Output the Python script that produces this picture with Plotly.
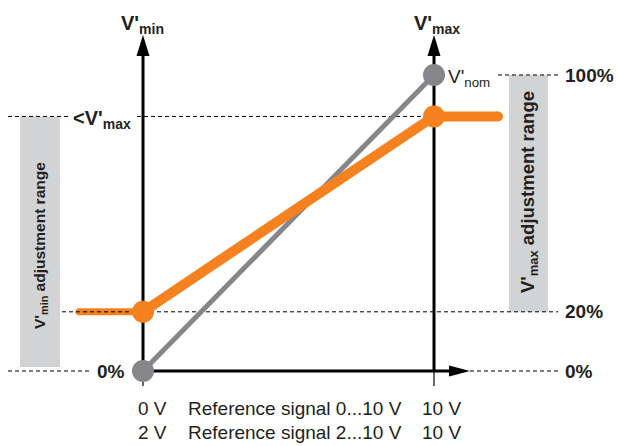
import plotly.graph_objects as go

# ---------------- data ----------------
signal_v = [0, 10]                      # reference signal start / end (V)
nominal_pct = [0, 100]                  # unlimited output (grey)
limited_v = [-2.2, 0, 10, 12.2]         # limited output (orange)
limited_pct = [20, 20, 86, 86]
vmin_pct = 20
vmax_pct = 86
nom_pct = 100
level_pct = [100, 20, 0]
level_labels = ["100%", "20%", "0%"]
start_labels = ["0 V", "2 V"]
end_labels = ["10 V", "10 V"]
signal_labels = ["Reference signal 0...10 V", "Reference signal 2...10 V"]

# ---------------- geometry helpers (pixel -> data) ----------------
W, H = 618, 446
X0, XS = 143, 29.1
Y0, YS = 371, 2.96


def px_x(p):
    return (p - X0) / XS


def px_y(p):
    return (Y0 - p) / YS


ORANGE = "#f5821f"
GREY = "#848689"
RECT = "#d2d3d5"
TEXT = "#231f20"
FONT = "Liberation Sans, Arial, sans-serif"
NARROW = "Liberation Sans Narrow, Liberation Sans, Arial, sans-serif"

fig = go.Figure()

# grey nominal line
fig.add_trace(go.Scatter(x=signal_v, y=nominal_pct, mode="lines+markers",
                         line=dict(color=GREY, width=5),
                         marker=dict(color=GREY, size=22, opacity=1),
                         hoverinfo="skip"))
# orange limited line
fig.add_trace(go.Scatter(x=limited_v[:2], y=limited_pct[:2], mode="lines",
                         line=dict(color=ORANGE, width=7), hoverinfo="skip"))
fig.add_trace(go.Scatter(x=limited_v[1:], y=limited_pct[1:], mode="lines",
                         line=dict(color=ORANGE, width=10), hoverinfo="skip"))
fig.add_trace(go.Scatter(x=limited_v, y=limited_pct, mode="markers",
                         marker=dict(color=ORANGE, size=[7, 22, 22, 10], opacity=1,
                                     line=dict(width=0)),
                         hoverinfo="skip"))

shapes = []
# grey adjustment range boxes
shapes.append(dict(type="rect", xref="x", yref="y", x0=px_x(20), x1=px_x(60),
                   y0=px_y(367), y1=vmax_pct, fillcolor=RECT, line=dict(width=0),
                   layer="below"))
shapes.append(dict(type="rect", xref="x", yref="y", x0=px_x(509), x1=px_x(548),
                   y0=vmin_pct, y1=nom_pct, fillcolor=RECT, line=dict(width=0),
                   layer="below"))

dash = dict(color="black", width=1, dash="4px,3px")


def dline(xa, xb, y, layer="below"):
    shapes.append(dict(type="line", xref="x", yref="y", x0=xa, x1=xb, y0=y, y1=y,
                       line=dash, layer=layer))


dline(px_x(8), px_x(68), vmax_pct)
dline(px_x(137), signal_v[1], vmax_pct)
dline(px_x(498), px_x(558), nom_pct)
dline(px_x(62), px_x(131), vmin_pct, layer="above")
dline(signal_v[0], px_x(558), vmin_pct)
dline(px_x(8), px_x(90), 0)
dline(px_x(470), px_x(558), 0)

axis = dict(color="black", width=3)
thin = dict(color="black", width=1.2)
for xv in signal_v:
    shapes.append(dict(type="line", xref="x", yref="y", x0=xv, x1=xv,
                       y0=0, y1=px_y(50), line=axis, layer="below"))
    shapes.append(dict(type="line", xref="x", yref="y", x0=xv, x1=xv,
                       y0=0, y1=px_y(386), line=thin, layer="below"))
    xp = X0 + xv * XS
    shapes.append(dict(type="path", xref="x", yref="y",
                       path=f"M {px_x(xp)},{px_y(35)} L {px_x(xp - 6.5)},{px_y(56)} "
                            f"L {px_x(xp + 6.5)},{px_y(56)} Z",
                       fillcolor="black", line=dict(width=0), layer="below"))
shapes.append(dict(type="line", xref="x", yref="y", x0=signal_v[0], x1=px_x(455),
                   y0=0, y1=0, line=axis, layer="below"))
shapes.append(dict(type="path", xref="x", yref="y",
                   path=f"M {px_x(470)},{px_y(371)} L {px_x(449)},{px_y(365.5)} "
                        f"L {px_x(449)},{px_y(376.5)} Z",
                   fillcolor="black", line=dict(width=0), layer="below"))

ann = []


def text(x, y, s, size=19, anchor="center", bold=False, family=FONT, angle=0,
         color=TEXT):
    ann.append(dict(x=x, y=y, xref="x", yref="y", text=(f"<b>{s}</b>" if bold else s),
                    showarrow=False, xanchor=anchor, yanchor="middle",
                    textangle=angle, font=dict(size=size, family=family, color=color)))


text(px_x(142), px_y(24), "V'<sub>min</sub>", size=20, bold=True)
text(px_x(437), px_y(24), "V'<sub>max</sub>", size=20, bold=True)
text(px_x(133), px_y(119), "<V'<sub>max</sub>", size=20, anchor="right", bold=True)
text(px_x(446), px_y(78), "V'<sub>nom</sub>", size=19, anchor="left")
for v, lab in zip(level_pct, level_labels):
    text(px_x(563), v, lab, size=19, anchor="left", bold=True)
text(px_x(127), 0, level_labels[2], size=19, anchor="right", bold=True)

for i, (a, b, c) in enumerate(zip(start_labels, signal_labels, end_labels)):
    yy = px_y(408 + 24 * i)
    text(px_x(152), yy, a, size=19)
    text(px_x(186), yy, b, size=19, anchor="left")
    text(px_x(441), yy, c, size=19)

text(px_x(40), px_y(246), "V'<sub>min</sub> adjustment range", size=15.5, bold=True,
     family=NARROW, angle=-90)
text(px_x(529), px_y(192), "V'<sub>max</sub> adjustment range", size=18.5, bold=True,
     family=NARROW, angle=-90)

fig.update_layout(
    width=W, height=H, margin=dict(l=0, r=0, t=0, b=0),
    paper_bgcolor="white", plot_bgcolor="white", showlegend=False,
    xaxis=dict(range=[px_x(0), px_x(W)], visible=False, fixedrange=True),
    yaxis=dict(range=[px_y(H), px_y(0)], visible=False, fixedrange=True),
    shapes=shapes, annotations=ann,
)

fig.write_html("out.html", config={"displayModeBar": False},
               post_script="document.body.style.margin='0';"
                           "document.body.style.overflow='hidden';")
